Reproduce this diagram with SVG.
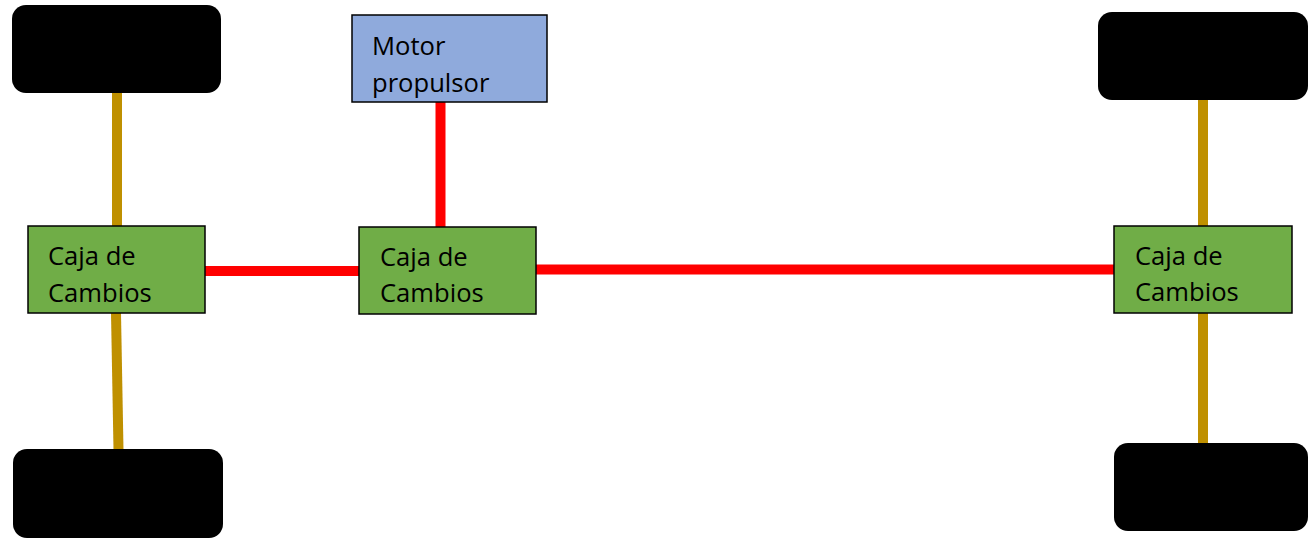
<svg xmlns="http://www.w3.org/2000/svg" width="1309" height="539" viewBox="0 0 1309 539">
<style>
.wheel{fill:#000000;}
.box{stroke:#000000;stroke-width:1.5;}
.gear{fill:#70AD47;}
.motor{fill:#8FAADC;}
.lbl{font-family:"Open Sans","Noto Sans","Liberation Sans",sans-serif;font-size:25.6px;fill:#000000;}
.axle{stroke:#BF9000;stroke-width:10;fill:none;}
.shaft{stroke:#FF0000;stroke-width:10;fill:none;}
</style>
<rect width="1309" height="539" fill="#FFFFFF"/>
<g id="connectors">
<line class="axle" x1="117" y1="92" x2="117" y2="227"/>
<line class="axle" x1="116" y1="313" x2="118.5" y2="450"/>
<line class="axle" x1="1203" y1="99" x2="1203" y2="226"/>
<line class="axle" x1="1203" y1="312" x2="1203" y2="444"/>
<line class="shaft" x1="440.5" y1="102" x2="440.5" y2="227"/>
<line class="shaft" x1="205" y1="271" x2="359" y2="271"/>
<line class="shaft" x1="536" y1="269.5" x2="1114" y2="269.5"/>
</g>
<g id="wheel-top-left"><rect class="wheel" x="12" y="5" width="209" height="88" rx="14"/></g>
<g id="wheel-bottom-left"><rect class="wheel" x="13" y="449" width="210" height="89" rx="14"/></g>
<g id="wheel-top-right"><rect class="wheel" x="1098" y="12" width="210" height="88" rx="14"/></g>
<g id="wheel-bottom-right"><rect class="wheel" x="1114" y="443" width="194" height="88" rx="14"/></g>
<g id="motor">
<rect class="box motor" x="352" y="15" width="195" height="87"/>
<text class="lbl" x="372" y="55">Motor</text>
<text class="lbl" x="372" y="91.5">propulsor</text>
</g>
<g id="gearbox-left">
<rect class="box gear" x="28" y="226" width="177" height="87"/>
<text class="lbl" x="48" y="265">Caja de</text>
<text class="lbl" x="48" y="301.5">Cambios</text>
</g>
<g id="gearbox-middle">
<rect class="box gear" x="359" y="227" width="177" height="87"/>
<text class="lbl" x="380" y="266">Caja de</text>
<text class="lbl" x="380" y="302">Cambios</text>
</g>
<g id="gearbox-right">
<rect class="box gear" x="1114" y="226" width="178" height="87"/>
<text class="lbl" x="1135" y="265">Caja de</text>
<text class="lbl" x="1135" y="301">Cambios</text>
</g>
</svg>
